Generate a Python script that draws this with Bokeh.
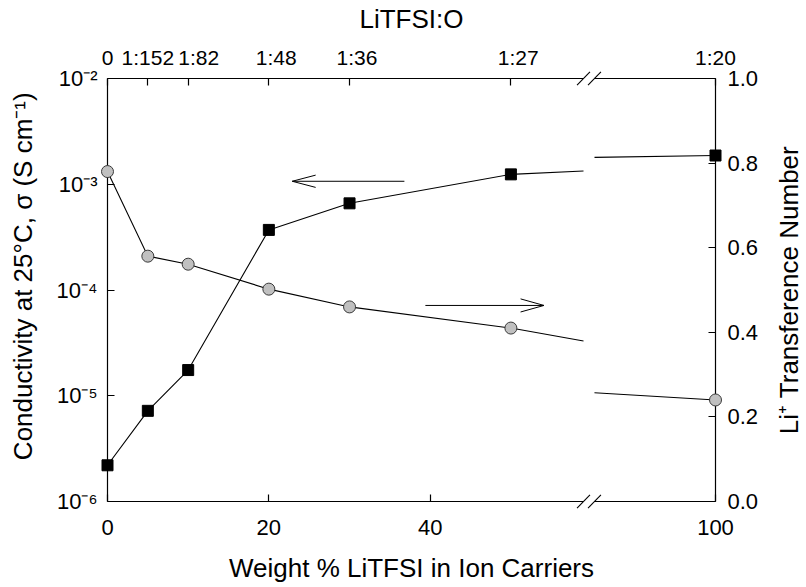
import numpy as np
from bokeh.plotting import figure
from bokeh.models import Range1d, LinearAxis, LinearScale, FixedTicker, CustomJSTickFormatter
from bokeh.core.properties import value
from bokeh.embed import file_html
from bokeh.resources import INLINE

# ---- data -------------------------------------------------------------
WT_PCT = [0, 5, 10, 20, 30, 50, 100]                       # wt% LiTFSI in ion carriers
CONDUCTIVITY = [2.2e-6, 7.2e-6, 1.75e-5, 3.7e-4, 6.6e-4, 1.24e-3, 1.87e-3]   # S/cm at 25 C
TRANSFERENCE = [0.780, 0.580, 0.561, 0.502, 0.460, 0.410, 0.240]           # Li+ transference number

BOTTOM_TICKS = [0, 20, 40, 100]
TOP_TICKS = [0, 5, 10, 20, 30, 50, 100]
TOP_LABELS = ["0", "1:152", "1:82", "1:48", "1:36", "1:27", "1:20"]
LOG_TICKS = [1e-6, 1e-5, 1e-4, 1e-3, 1e-2]
RIGHT_TICKS = [0.0, 0.2, 0.4, 0.6, 0.8, 1.0]

LEFT_TITLE = "Conductivity at 25\u00b0C, \u03c3 (S cm\u207b\u00b9)"
RIGHT_TITLE = "Li\u207a Transference Number"

FONT = "Liberation Sans"

# leading spaces that nudge some top labels to the right of their ticks
TOP_PAD = ["", "", "\u2002\u2002", "\u2002\u2009", "\u2002\u2009", "\u2002\u2009", ""]

# ---- broken x axis ----------------------------------------------------
# 0..59 is drawn at unit scale, then a short gap, then 95..100 stretched 3x
LEFT_END = 59.0
RIGHT_START = 95.0
GAP = 1.36
RIGHT_SCALE = 3.0
RIGHT_START_D = LEFT_END + GAP


def disp(x):
    x = np.asarray(x, dtype=float)
    return np.where(x <= LEFT_END, x, RIGHT_START_D + (x - RIGHT_START) * RIGHT_SCALE)


X_MAX = float(disp(100))


def split_at_break(xs, ys, log=False):
    """Cut a polyline where it crosses the axis break (clip both sides)."""
    fwd = np.log10 if log else (lambda v: v)
    inv = (lambda v: 10 ** v) if log else (lambda v: v)
    pieces_x, pieces_y = [[xs[0]]], [[ys[0]]]
    for (x0, y0), (x1, y1) in zip(zip(xs[:-1], ys[:-1]), zip(xs[1:], ys[1:])):
        if x0 <= LEFT_END and x1 >= RIGHT_START:
            a0, a1 = fwd(y0), fwd(y1)
            f_left = (LEFT_END - x0) / (x1 - x0)
            f_right = (RIGHT_START - x0) / (x1 - x0)
            pieces_x[-1].append(LEFT_END)
            pieces_y[-1].append(inv(a0 + (a1 - a0) * f_left))
            pieces_x.append([RIGHT_START])
            pieces_y.append([inv(a0 + (a1 - a0) * f_right)])
        pieces_x[-1].append(x1)
        pieces_y[-1].append(y1)
    return [[float(v) for v in disp(px)] for px in pieces_x], pieces_y


LABEL_CODE = """
let best = 0, bd = Infinity;
for (let i = 0; i < pos.length; i++) {
  const d = Math.abs(pos[i] - tick);
  if (d < bd) { bd = d; best = i; }
}
return pad[best] + labels[best];
"""

POW_CODE = """
const sup = {"-": "\\u207b", "0": "\\u2070", "1": "\\u00b9", "2": "\\u00b2", "3": "\\u00b3",
             "4": "\\u2074", "5": "\\u2075", "6": "\\u2076", "7": "\\u2077", "8": "\\u2078", "9": "\\u2079"};
const e = String(Math.round(Math.log10(tick)));
return "10" + e.split("").map(c => sup[c]).join("");
"""

# ---- figure -----------------------------------------------------------
p = figure(width=806, height=587, x_range=Range1d(0, X_MAX), y_range=Range1d(1e-6, 1e-2),
           y_axis_type="log", output_backend="svg", toolbar_location=None,
           min_border_left=107, min_border_right=91, min_border_top=76, min_border_bottom=86)
p.extra_y_ranges = {"tn": Range1d(0, 1)}
p.extra_y_scales = {"tn": LinearScale()}
p.grid.visible = False
p.outline_line_color = None
p.background_fill_color = "white"
p.border_fill_color = "white"


def style(ax, size):
    ax.axis_line_color = "black"
    ax.axis_line_width = 1.2
    ax.major_tick_in = 7
    ax.major_tick_out = 0
    ax.major_tick_line_color = "black"
    ax.major_tick_line_width = 1.2
    ax.minor_tick_line_color = None
    ax.major_label_text_font = FONT
    ax.major_label_text_font_size = f"{size}px"
    ax.major_label_text_color = "black"
    ax.axis_label_text_font = FONT
    ax.axis_label_text_font_size = "26px"
    ax.axis_label_text_font_style = "normal"
    ax.axis_label_text_color = "black"


# bottom axis
bottom_pos = [float(v) for v in disp(BOTTOM_TICKS)]
xb = p.xaxis[0]
style(xb, 22)
xb.ticker = FixedTicker(ticks=bottom_pos, minor_ticks=[])
xb.formatter = CustomJSTickFormatter(args=dict(pos=bottom_pos, labels=[str(t) for t in BOTTOM_TICKS],
                                               pad=[""] * len(BOTTOM_TICKS)), code=LABEL_CODE)
xb.major_label_standoff = 18
xb.axis_label = "Weight % LiTFSI in Ion Carriers"
xb.axis_label_standoff = 15

# left (log) axis
yl = p.yaxis[0]
style(yl, 22)
yl.ticker = FixedTicker(ticks=LOG_TICKS, minor_ticks=[])
yl.formatter = CustomJSTickFormatter(code=POW_CODE)
yl.major_label_standoff = 10

# top axis: salt to ether-oxygen ratio
top_pos = [float(v) for v in disp(TOP_TICKS)]
xt = LinearAxis(ticker=FixedTicker(ticks=top_pos, minor_ticks=[]),
                formatter=CustomJSTickFormatter(args=dict(pos=top_pos, labels=TOP_LABELS,
                                                          pad=TOP_PAD), code=LABEL_CODE))
style(xt, 21)
xt.major_label_standoff = 10
xt.axis_label = "LiTFSI:O"
xt.axis_label_standoff = 9
p.add_layout(xt, "above")

# right axis: transference number
yr = LinearAxis(y_range_name="tn", ticker=FixedTicker(ticks=RIGHT_TICKS, minor_ticks=[]),
                formatter=CustomJSTickFormatter(code="return tick.toFixed(1);"))
style(yr, 22)
yr.major_label_standoff = 12
p.add_layout(yr, "right")

# vertical axis titles, drawn as rotated text just outside the frame
p.text(x=[0], y=[10 ** -3.87], text=[LEFT_TITLE], x_offset=-85,
       angle=np.pi / 2, text_align="center", text_baseline="alphabetic",
       text_font=value(FONT), text_font_size="26px", text_color="black", level="overlay")
p.text(x=[X_MAX], y=[0.5], text=[RIGHT_TITLE], x_offset=73, y_range_name="tn",
       angle=np.pi / 2, text_align="center", text_baseline="alphabetic",
       text_font=value(FONT), text_font_size="26px", text_color="black", level="overlay")

# ---- axis break marks ("//" on top and bottom axes) -------------------
bx0, bx1 = float(disp(LEFT_END)), RIGHT_START_D
SL_DX = 0.8          # half width of a slash, x units
SL_DEC = 0.063       # half height of a slash, decades
for y_axis in (1e-6, 1e-2):
    p.segment(x0=[bx0], y0=[y_axis], x1=[bx1], y1=[y_axis],
              line_color="white", line_width=4, level="overlay")
    p.segment(x0=[bx0 - SL_DX, bx1 - SL_DX],
              y0=[y_axis * 10 ** -SL_DEC] * 2,
              x1=[bx0 + SL_DX, bx1 + SL_DX],
              y1=[y_axis * 10 ** SL_DEC] * 2,
              line_color="black", line_width=1.1, level="overlay")

# ---- series -----------------------------------------------------------
cx, cy = split_at_break(WT_PCT, CONDUCTIVITY, log=True)
p.multi_line(cx, cy, line_color="black", line_width=1.1, level="overlay")
tx, ty = split_at_break(WT_PCT, TRANSFERENCE, log=False)
p.multi_line(tx, ty, line_color="black", line_width=1.1, y_range_name="tn", level="overlay")

p.scatter(disp(WT_PCT), CONDUCTIVITY, marker="square", size=11,
          fill_color="black", line_color="black", level="overlay")
p.scatter(disp(WT_PCT), TRANSFERENCE, marker="circle", size=12,
          fill_color="#c0c0c0", line_color="#3a3a3a", line_width=1,
          y_range_name="tn", level="overlay")

# ---- arrows pointing each curve to its axis ---------------------------
HEAD_LEN = 2.9
# conductivity -> left axis
AL_TAIL, AL_TIP, AL_Y, AL_HALF_DEC = 36.8, 22.9, 1.067e-3, 0.058
p.multi_line([[AL_TAIL, AL_TIP], [AL_TIP + HEAD_LEN, AL_TIP, AL_TIP + HEAD_LEN]],
             [[AL_Y, AL_Y], [AL_Y * 10 ** AL_HALF_DEC, AL_Y, AL_Y * 10 ** -AL_HALF_DEC]],
             line_color="black", line_width=1)
# transference number -> right axis
AR_TAIL, AR_TIP, AR_Y, AR_HALF = 39.4, 54.1, 0.4635, 0.0155
p.multi_line([[AR_TAIL, AR_TIP], [AR_TIP - HEAD_LEN, AR_TIP, AR_TIP - HEAD_LEN]],
             [[AR_Y, AR_Y], [AR_Y + AR_HALF, AR_Y, AR_Y - AR_HALF]],
             line_color="black", line_width=1, y_range_name="tn")

open("out.html", "w", encoding="utf-8").write(file_html(p, INLINE))
